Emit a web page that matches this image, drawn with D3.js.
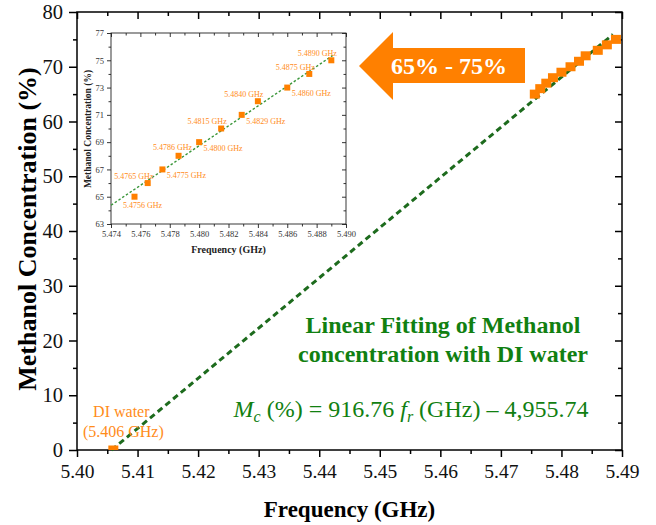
<!DOCTYPE html>
<html>
<head>
<meta charset="utf-8">
<script src="https://cdn.jsdelivr.net/npm/d3@7"></script>
<style>
  html, body { margin: 0; padding: 0; background: #fff; }
  svg { display: block; }
  text { font-family: "Liberation Serif", "Times New Roman", serif; }
</style>
</head>
<body>
<svg id="chart" width="656" height="525"></svg>
<script>
// Resonant frequency (GHz) of the sensor for each methanol concentration (%)
const freqGHz = [5.4756, 5.4765, 5.4775, 5.4786, 5.4800, 5.4815, 5.4829, 5.4840, 5.4860, 5.4875, 5.4890];
const concPct = [65, 66, 67, 68, 69, 70, 71, 72, 73, 74, 75];

// Reference point: deionised water
const diWaterFreq = [5.406];
const diWaterConc = [0];

// Linear fit stated on the chart: Mc = slope * fr + intercept
const fitSlope = 916.76;
const fitIntercept = -4955.74;
const fitFreqRange = [5.4057, 5.4885];

// Axis ticks
const mainXTicks = [5.40, 5.41, 5.42, 5.43, 5.44, 5.45, 5.46, 5.47, 5.48, 5.49];
const mainYTicks = [0, 10, 20, 30, 40, 50, 60, 70, 80];
const insetXTicks = [5.474, 5.476, 5.478, 5.480, 5.482, 5.484, 5.486, 5.488, 5.490];
const insetYTicks = [63, 65, 67, 69, 71, 73, 75, 77];

// Where each inset frequency label sits relative to its point
const insetLabelSide = ["below", "aboveLeft", "right", "above", "right", "aboveLeft",
                        "right", "aboveLeft", "right", "aboveLeft", "aboveLeft"];

const ORANGE = "#ff8000";
const ORANGE_TXT = "#ff8c1a";
const GREEN_TXT = "#118011";
const GREEN_LINE = "#1d6b1d";
const SERIF = '"Liberation Serif", "Times New Roman", serif';

const svg = d3.select("#chart");
const points = freqGHz.map((f, i) => ({ f, c: concPct[i] }));
const fmt2 = d3.format(".2f");

// ---------- main panel ----------
const M = { left: 77, right: 622, top: 12, bottom: 450 };
const x = d3.scaleLinear().domain([5.40, 5.49]).range([M.left, M.right]);
const y = d3.scaleLinear().domain([0, 80]).range([M.bottom, M.top]);

svg.append("defs").append("clipPath").attr("id", "plotClip")
  .append("rect").attr("x", M.left).attr("y", M.top)
  .attr("width", M.right - M.left).attr("height", M.bottom - M.top);

// minor ticks halfway between consecutive major ticks
function minorTicks(major) {
  const out = [];
  for (let i = 0; i < major.length - 1; i++) out.push((major[i] + major[i + 1]) / 2);
  return out;
}

function styleAxis(g, w) {
  g.select(".domain").remove();
  g.selectAll(".tick line").attr("stroke", "#000").attr("stroke-width", w);
}

// bottom axis: major + minor, outward
const gxB = svg.append("g").attr("transform", `translate(0,${M.bottom})`)
  .call(d3.axisBottom(x).tickValues(mainXTicks).tickSize(7).tickPadding(7).tickFormat(fmt2));
styleAxis(gxB, 1.5);
gxB.selectAll(".tick text").attr("font-size", 19.5).attr("fill", "#111").attr("font-family", SERIF);
svg.append("g").attr("transform", `translate(0,${M.bottom})`)
  .call(d3.axisBottom(x).tickValues(minorTicks(mainXTicks)).tickSize(4).tickFormat(""))
  .call(g => styleAxis(g, 1.5));

// top axis: inward ticks
svg.append("g").attr("transform", `translate(0,${M.top})`)
  .call(d3.axisTop(x).tickValues(mainXTicks).tickSize(-7).tickFormat(""))
  .call(g => styleAxis(g, 1.5));
svg.append("g").attr("transform", `translate(0,${M.top})`)
  .call(d3.axisTop(x).tickValues(minorTicks(mainXTicks)).tickSize(-4).tickFormat(""))
  .call(g => styleAxis(g, 1.5));

// left axis
const gyL = svg.append("g").attr("transform", `translate(${M.left},0)`)
  .call(d3.axisLeft(y).tickValues(mainYTicks).tickSize(8).tickPadding(6));
styleAxis(gyL, 1.5);
gyL.selectAll(".tick text").attr("font-size", 20.5).attr("fill", "#111").attr("font-family", SERIF);
svg.append("g").attr("transform", `translate(${M.left},0)`)
  .call(d3.axisLeft(y).tickValues(minorTicks(mainYTicks)).tickSize(4).tickFormat(""))
  .call(g => styleAxis(g, 1.5));

// right axis: inward ticks
svg.append("g").attr("transform", `translate(${M.right},0)`)
  .call(d3.axisRight(y).tickValues(mainYTicks).tickSize(-7).tickFormat(""))
  .call(g => styleAxis(g, 1.5));
svg.append("g").attr("transform", `translate(${M.right},0)`)
  .call(d3.axisRight(y).tickValues(minorTicks(mainYTicks)).tickSize(-4).tickFormat(""))
  .call(g => styleAxis(g, 1.5));

// frame
svg.append("rect").attr("x", M.left).attr("y", M.top)
  .attr("width", M.right - M.left).attr("height", M.bottom - M.top)
  .attr("fill", "none").attr("stroke", "#000").attr("stroke-width", 1.5);

// axis titles
svg.append("text").attr("x", (M.left + M.right) / 2).attr("y", 517)
  .attr("text-anchor", "middle").attr("font-weight", "bold").attr("font-size", 23)
  .text("Frequency (GHz)");
svg.append("text").attr("transform", "translate(36,229) rotate(-90)")
  .attr("text-anchor", "middle").attr("font-weight", "bold").attr("font-size", 26)
  .text("Methanol Concentration (%)");

// fitted line
const fitLine = d3.line().x(d => x(d)).y(d => y(fitSlope * d + fitIntercept));
svg.append("path").datum(fitFreqRange)
  .attr("d", fitLine).attr("fill", "none")
  .attr("stroke", GREEN_LINE).attr("stroke-width", 3).attr("stroke-dasharray", "6,4");

// data squares
const plot = svg.append("g").attr("clip-path", "url(#plotClip)");
const SQW = 10, SQH = 9;
plot.selectAll("rect.pt").data(points).join("rect").attr("class", "pt")
  .attr("x", d => x(d.f) - SQW / 2).attr("y", d => y(d.c) - SQH / 2)
  .attr("width", SQW).attr("height", SQH).attr("fill", ORANGE);
plot.selectAll("rect.di").data(diWaterFreq.map((f, i) => ({ f, c: diWaterConc[i] })))
  .join("rect").attr("class", "di")
  .attr("x", d => x(d.f) - SQW / 2).attr("y", d => y(d.c) - SQH / 2)
  .attr("width", SQW).attr("height", SQH).attr("fill", ORANGE);

// DI water annotation
const diX = x(diWaterFreq[0]) + 8;
svg.append("text").attr("x", diX).attr("y", 417).attr("text-anchor", "middle")
  .attr("font-size", 16).attr("fill", ORANGE_TXT).text("DI water");
svg.append("text").attr("x", diX + 2).attr("y", 437).attr("text-anchor", "middle")
  .attr("font-size", 16).attr("fill", ORANGE_TXT).text(`(${diWaterFreq[0].toFixed(3)} GHz)`);

// fit description
svg.append("text").attr("x", 443).attr("y", 333).attr("text-anchor", "middle")
  .attr("font-size", 24).attr("font-weight", "bold").attr("fill", GREEN_TXT)
  .text("Linear Fitting of Methanol");
svg.append("text").attr("x", 443).attr("y", 362).attr("text-anchor", "middle")
  .attr("font-size", 24).attr("font-weight", "bold").attr("fill", GREEN_TXT)
  .text("concentration with DI water");

const eq = svg.append("text").attr("x", 411).attr("y", 417).attr("text-anchor", "middle")
  .attr("font-size", 24).attr("fill", GREEN_TXT);
eq.append("tspan").attr("font-style", "italic").text("M");
eq.append("tspan").attr("font-style", "italic").attr("font-size", 16).attr("dy", 5).text("c");
eq.append("tspan").attr("dy", -5).text(` (%) = ${fitSlope} `);
eq.append("tspan").attr("font-style", "italic").text("f");
eq.append("tspan").attr("font-style", "italic").attr("font-size", 16).attr("dy", 5).text("r");
eq.append("tspan").attr("dy", -5).text(` (GHz) \u2013 ${d3.format(",.2f")(-fitIntercept)}`);

// range arrow
const arrow = [[359, 66], [393, 32], [393, 48], [525, 48], [525, 83], [393, 83], [393, 100]];
svg.append("polygon").attr("points", arrow.map(p => p.join(",")).join(" ")).attr("fill", ORANGE);
svg.append("text").attr("x", 449).attr("y", 66).attr("dy", "0.35em")
  .attr("text-anchor", "middle").attr("font-size", 24).attr("font-weight", "bold")
  .attr("fill", "#fff").text(`${d3.min(concPct)}% - ${d3.max(concPct)}%`);

// ---------- inset panel ----------
const I = { left: 111, right: 346, top: 33, bottom: 224 };
const xi = d3.scaleLinear().domain([5.474, 5.490]).range([I.left, I.right]);
const yi = d3.scaleLinear().domain([63, 77]).range([I.bottom, I.top]);

svg.append("rect").attr("x", I.left).attr("y", I.top)
  .attr("width", I.right - I.left).attr("height", I.bottom - I.top).attr("fill", "#fff");

const gxi = svg.append("g").attr("transform", `translate(0,${I.bottom})`)
  .call(d3.axisBottom(xi).tickValues(insetXTicks).tickSize(4).tickPadding(3).tickFormat(d3.format(".3f")));
styleAxis(gxi, 0.8);
gxi.selectAll(".tick text").attr("font-size", 8.5).attr("fill", "#333").attr("font-family", SERIF);
svg.append("g").attr("transform", `translate(0,${I.bottom})`)
  .call(d3.axisBottom(xi).tickValues(minorTicks(insetXTicks)).tickSize(2.5).tickFormat(""))
  .call(g => styleAxis(g, 0.8));
svg.append("g").attr("transform", `translate(0,${I.top})`)
  .call(d3.axisTop(xi).tickValues(insetXTicks).tickSize(-4).tickFormat(""))
  .call(g => styleAxis(g, 0.8));
svg.append("g").attr("transform", `translate(0,${I.top})`)
  .call(d3.axisTop(xi).tickValues(minorTicks(insetXTicks)).tickSize(-2.5).tickFormat(""))
  .call(g => styleAxis(g, 0.8));

const gyi = svg.append("g").attr("transform", `translate(${I.left},0)`)
  .call(d3.axisLeft(yi).tickValues(insetYTicks).tickSize(4).tickPadding(3));
styleAxis(gyi, 0.8);
gyi.selectAll(".tick text").attr("font-size", 8.5).attr("fill", "#333").attr("font-family", SERIF);
svg.append("g").attr("transform", `translate(${I.left},0)`)
  .call(d3.axisLeft(yi).tickValues(minorTicks(insetYTicks)).tickSize(2.5).tickFormat(""))
  .call(g => styleAxis(g, 0.8));
svg.append("g").attr("transform", `translate(${I.right},0)`)
  .call(d3.axisRight(yi).tickValues(insetYTicks).tickSize(-4).tickFormat(""))
  .call(g => styleAxis(g, 0.8));
svg.append("g").attr("transform", `translate(${I.right},0)`)
  .call(d3.axisRight(yi).tickValues(minorTicks(insetYTicks)).tickSize(-2.5).tickFormat(""))
  .call(g => styleAxis(g, 0.8));

svg.append("rect").attr("x", I.left).attr("y", I.top)
  .attr("width", I.right - I.left).attr("height", I.bottom - I.top)
  .attr("fill", "none").attr("stroke", "#222").attr("stroke-width", 0.9);

svg.append("text").attr("x", (I.left + I.right) / 2).attr("y", 253)
  .attr("text-anchor", "middle").attr("font-weight", "bold").attr("font-size", 10)
  .attr("fill", "#222").text("Frequency (GHz)");
svg.append("text").attr("transform", "translate(91,129) rotate(-90)")
  .attr("text-anchor", "middle").attr("font-weight", "bold").attr("font-size", 9.5)
  .attr("fill", "#222").text("Methanol Concentration (%)");

// least-squares fit of the inset points
const mf = d3.mean(freqGHz), mc = d3.mean(concPct);
const sxy = d3.sum(points, d => (d.f - mf) * (d.c - mc));
const sxx = d3.sum(points, d => (d.f - mf) ** 2);
const insetSlope = sxy / sxx, insetIntercept = mc - insetSlope * mf;
const insetRange = [5.474, 5.4891];
svg.append("path").datum(insetRange)
  .attr("d", d3.line().x(d => xi(d)).y(d => yi(insetSlope * d + insetIntercept)))
  .attr("fill", "none").attr("stroke", "#3a963a").attr("stroke-width", 1.4)
  .attr("stroke-dasharray", "2.5,2");

svg.selectAll("rect.ipt").data(points).join("rect").attr("class", "ipt")
  .attr("x", d => xi(d.f) - 3).attr("y", d => yi(d.c) - 3)
  .attr("width", 6).attr("height", 6).attr("fill", ORANGE);

const sideOffset = {
  below: [8, 8], aboveLeft: [-14, -7], right: [24, 6], above: [-6, -9]
};
svg.selectAll("text.ilbl").data(points).join("text").attr("class", "ilbl")
  .attr("x", (d, i) => xi(d.f) + sideOffset[insetLabelSide[i]][0])
  .attr("y", (d, i) => yi(d.c) + sideOffset[insetLabelSide[i]][1])
  .attr("dy", "0.35em").attr("text-anchor", "middle")
  .attr("font-size", 8).attr("fill", ORANGE_TXT)
  .text(d => `${d.f.toFixed(4)} GHz`);
</script>
</body>
</html>
